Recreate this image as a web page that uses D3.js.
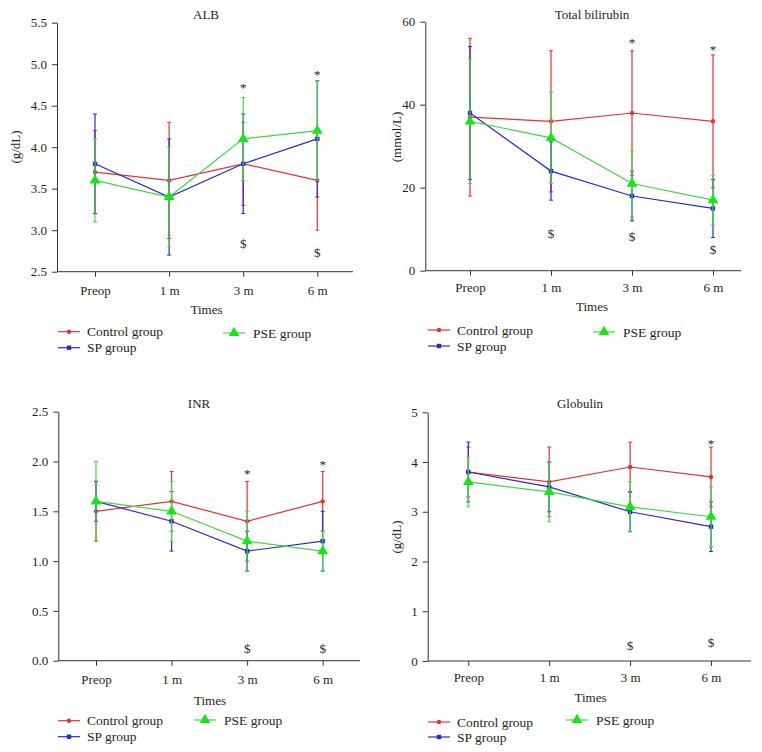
<!DOCTYPE html>
<html><head><meta charset="utf-8">
<script src="https://cdn.jsdelivr.net/npm/d3@7"></script>
<style>
body{margin:0;background:#fff}
svg{display:block}
text{font-family:"Liberation Serif","Times New Roman",serif;fill:#231f20}
</style>
</head><body>
<svg id="c" width="762" height="752"></svg>
<script>
// ---------- data ----------
const times = ["Preop", "1 m", "3 m", "6 m"];
const groups = ["Control group", "SP group", "PSE group"];

// ALB (g/dL)
const albTicks = [2.5, 3.0, 3.5, 4.0, 4.5, 5.0, 5.5];
const albControl = [3.7, 3.6, 3.8, 3.6];
const albControlSD = [0.5, 0.7, 0.5, 0.6];
const albSP = [3.8, 3.4, 3.8, 4.1];
const albSPSD = [0.6, 0.7, 0.6, 0.7];
const albPSE = [3.6, 3.4, 4.1, 4.2];
const albPSESD = [0.5, 0.6, 0.5, 0.6];
const albStar = [null, null, 4.75, 4.91];
const albDollar = [null, null, 2.84, 2.73];

// Total bilirubin (mmol/L)
const bilTicks = [0, 20, 40, 60];
const bilControl = [37, 36, 38, 36];
const bilControlSD = [19, 17, 15, 16];
const bilSP = [38, 24, 18, 15];
const bilSPSD = [16, 7, 6, 7];
const bilPSE = [36, 32, 21, 17];
const bilPSESD = [15, 11, 8, 6];
const bilStar = [null, null, 55.6, 54];
const bilDollar = [null, 9, 8.2, 5];

// INR
const inrTicks = [0.0, 0.5, 1.0, 1.5, 2.0, 2.5];
const inrControl = [1.5, 1.6, 1.4, 1.6];
const inrControlSD = [0.3, 0.3, 0.4, 0.3];
const inrSP = [1.6, 1.4, 1.1, 1.2];
const inrSPSD = [0.2, 0.3, 0.2, 0.3];
const inrPSE = [1.6, 1.5, 1.2, 1.1];
const inrPSESD = [0.4, 0.3, 0.3, 0.2];
const inrStar = [null, null, 1.9, 2.0];
const inrDollar = [null, null, 0.12, 0.12];

// Globulin (g/dL)
const globTicks = [0, 1, 2, 3, 4, 5];
const globControl = [3.8, 3.6, 3.9, 3.7];
const globControlSD = [0.5, 0.7, 0.5, 0.6];
const globSP = [3.8, 3.5, 3.0, 2.7];
const globSPSD = [0.6, 0.5, 0.4, 0.5];
const globPSE = [3.6, 3.4, 3.1, 2.9];
const globPSESD = [0.5, 0.6, 0.5, 0.6];
const globStar = [null, null, null, 4.43];
const globDollar = [null, null, 0.32, 0.37];

// ---------- layout / style ----------
const lineColors = ["#e5323a", "#2a2ac6", "#44d644"];
const triFill = "#16e616";
const axisColor = "#333";
const textColor = "#231f20";
const FONT = "Liberation Serif, Times New Roman, serif";

const panels = [
  {title: "ALB", ylabel: "(g/dL)", ticks: albTicks, fmt: ".1f",
   series: [[albControl, albControlSD], [albSP, albSPSD], [albPSE, albPSESD]],
   star: albStar, dollar: albDollar,
   L: 57, R: 353, T: 22.7, B: 271.7, p0: 95, p3: 317.3,
   titleX: 206, titleY: 14, ylabX: 15, ylabY: 147, tickLabY: 290, timesX: 206.5, timesY: 309,
   legX: 58, legY1: 331.7, legY2: 347.7, pseX: 223, pseY: 333},
  {title: "Total bilirubin", ylabel: "(mmol/L)", ticks: bilTicks, fmt: "d",
   series: [[bilControl, bilControlSD], [bilSP, bilSPSD], [bilPSE, bilPSESD]],
   star: bilStar, dollar: bilDollar,
   L: 425.3, R: 741, T: 21.7, B: 270.7, p0: 470, p3: 713,
   titleX: 592, titleY: 14, ylabX: 396, ylabY: 137, tickLabY: 287, timesX: 592, timesY: 306,
   legX: 428, legY1: 330, legY2: 346, pseX: 593, pseY: 332},
  {title: "INR", ylabel: null, ticks: inrTicks, fmt: ".1f",
   series: [[inrControl, inrControlSD], [inrSP, inrSPSD], [inrPSE, inrPSESD]],
   star: inrStar, dollar: inrDollar,
   L: 58.3, R: 360, T: 411.7, B: 660.7, p0: 96, p3: 322.7,
   titleX: 199, titleY: 403, ylabX: 0, ylabY: 0, tickLabY: 679, timesX: 210, timesY: 700,
   legX: 58, legY1: 720.7, legY2: 736.7, pseX: 194, pseY: 720},
  {title: "Globulin", ylabel: "(g/dL)", ticks: globTicks, fmt: "d",
   series: [[globControl, globControlSD], [globSP, globSPSD], [globPSE, globPSESD]],
   star: globStar, dollar: globDollar,
   L: 427.7, R: 751, T: 412.3, B: 661, p0: 468.3, p3: 711,
   titleX: 580, titleY: 403, ylabX: 396, ylabY: 537, tickLabY: 677, timesX: 590.5, timesY: 697,
   legX: 428, legY1: 722, legY2: 737, pseX: 566, pseY: 720}
];

const svg = d3.select("#c");

function txt(sel, size) {
  return sel.attr("font-family", FONT).attr("font-size", size).attr("fill", textColor);
}

function drawMarker(g, idx, cx, cy) {
  if (idx === 0) {
    g.append("circle").attr("cx", cx).attr("cy", cy).attr("r", 2.2).attr("fill", lineColors[0]);
  } else if (idx === 1) {
    g.append("rect").attr("x", cx - 2.2).attr("y", cy - 2.2).attr("width", 4.4).attr("height", 4.4).attr("fill", lineColors[1]);
  } else {
    g.append("path").attr("d", d3.symbol(d3.symbolTriangle, 50)())
      .attr("transform", `translate(${cx},${cy})`).attr("fill", triFill);
  }
}

panels.forEach(p => {
  const g = svg.append("g");
  const x = d3.scalePoint().domain(times).range([p.p0, p.p3]);
  const y = d3.scaleLinear().domain(d3.extent(p.ticks)).range([p.B, p.T]);

  // y axis
  const ya = g.append("g").attr("transform", `translate(${p.L},0)`)
    .call(d3.axisLeft(y).tickValues(p.ticks).tickFormat(d3.format(p.fmt)).tickSize(5).tickSizeOuter(0).tickPadding(5));
  ya.select(".domain").attr("stroke", axisColor);
  ya.selectAll(".tick line").attr("stroke", axisColor);
  txt(ya.selectAll("text"), 13);

  // x axis
  const xa = g.append("g").attr("transform", `translate(0,${p.B})`)
    .call(d3.axisBottom(x).tickSize(5).tickSizeOuter(0).tickPadding(0));
  xa.select(".domain").remove();
  xa.selectAll(".tick line").attr("stroke", axisColor);
  txt(xa.selectAll("text"), 13).attr("y", p.tickLabY - p.B).attr("dy", "0.35em");
  g.append("line").attr("x1", p.L).attr("x2", p.R).attr("y1", p.B).attr("y2", p.B).attr("stroke", axisColor);

  // title, labels
  txt(g.append("text"), 13).attr("x", p.titleX).attr("y", p.titleY).attr("dy", "0.35em")
    .attr("text-anchor", "middle").text(p.title);
  if (p.ylabel) {
    txt(g.append("text"), 13).attr("transform", `translate(${p.ylabX},${p.ylabY}) rotate(-90)`)
      .attr("dy", "0.35em").attr("text-anchor", "middle").text(p.ylabel);
  }
  txt(g.append("text"), 13).attr("x", p.timesX).attr("y", p.timesY).attr("dy", "0.35em")
    .attr("text-anchor", "middle").text("Times");

  // series
  p.series.forEach(([vals, sds], si) => {
    const sg = g.append("g");
    vals.forEach((v, i) => {
      const cx = x(times[i]);
      const y1 = y(v - sds[i]), y2 = y(v + sds[i]);
      sg.append("line").attr("x1", cx).attr("x2", cx).attr("y1", y1).attr("y2", y2)
        .attr("stroke", lineColors[si]).attr("stroke-width", 1.2);
      [y1, y2].forEach(yy => sg.append("line").attr("x1", cx - 2).attr("x2", cx + 2)
        .attr("y1", yy).attr("y2", yy).attr("stroke", lineColors[si]).attr("stroke-width", 1));
    });
    const line = d3.line().x((d, i) => x(times[i])).y(d => y(d));
    sg.append("path").attr("d", line(vals)).attr("fill", "none")
      .attr("stroke", lineColors[si]).attr("stroke-width", 1.2);
    vals.forEach((v, i) => drawMarker(sg, si, x(times[i]), y(v)));
  });

  // significance annotations
  p.star.forEach((v, i) => {
    if (v == null) return;
    txt(g.append("text"), 13).attr("x", x(times[i])).attr("y", y(v) + 7)
      .attr("text-anchor", "middle").text("*");
  });
  p.dollar.forEach((v, i) => {
    if (v == null) return;
    txt(g.append("text"), 13).attr("x", x(times[i])).attr("y", y(v) + 4.5)
      .attr("text-anchor", "middle").text("$");
  });

  // legend
  const lg = g.append("g");
  [[p.legX, p.legY1, 0], [p.legX, p.legY2, 1], [p.pseX, p.pseY, 2]].forEach(([lx, ly, si]) => {
    lg.append("line").attr("x1", lx).attr("x2", lx + 22).attr("y1", ly).attr("y2", ly)
      .attr("stroke", lineColors[si]).attr("stroke-width", 1.2);
    drawMarker(lg, si, lx + 11, ly);
    txt(lg.append("text"), 13.5).attr("x", lx + (si === 2 ? 30 : 29)).attr("y", ly).attr("dy", "0.35em")
      .text(groups[si]);
  });
});
</script>
</body></html>
